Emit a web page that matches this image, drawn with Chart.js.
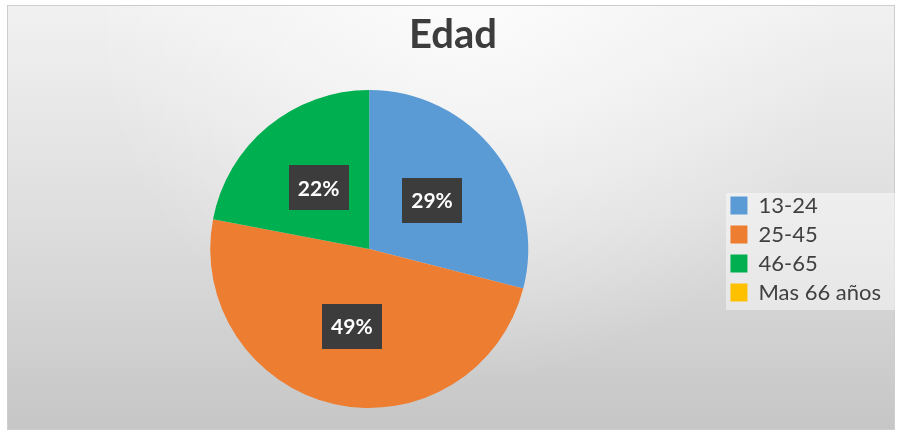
<!DOCTYPE html>
<html>
<head>
<meta charset="utf-8">
<script src="https://cdn.jsdelivr.net/npm/chart.js@4/dist/chart.umd.min.js"></script>
<style>
  html, body { margin: 0; padding: 0; background: #fff; }
  #wrap { width: 904px; height: 433px; }
</style>
</head>
<body>
<div id="wrap"><canvas id="edadChart" width="904" height="433"></canvas></div>
<script>
// datos del grafico
const ageGroups = ['13-24', '25-45', '46-65', 'Mas 66 años'];
const percents = [29, 49, 22, 0];
const sliceColors = ['#5B9BD5', '#ED7D31', '#00B050', '#FFC000'];

// fondo gris degradado + marco + caja de la leyenda
const backdrop = {
  id: 'backdrop',
  beforeDraw(chart) {
    const ctx = chart.ctx;
    ctx.save();
    ctx.fillStyle = '#ffffff';
    ctx.fillRect(0, 0, chart.width, chart.height);
    let g = ctx.createLinearGradient(0, 5, 0, 430);
    g.addColorStop(0, '#f1f1f1');
    g.addColorStop(0.5, '#dedede');
    g.addColorStop(1, '#c6c6c6');
    ctx.fillStyle = g;
    ctx.fillRect(7, 5, 888, 425);
    let r = ctx.createRadialGradient(470, 0, 10, 470, 0, 380);
    r.addColorStop(0, 'rgba(255,255,255,0.75)');
    r.addColorStop(1, 'rgba(255,255,255,0)');
    ctx.fillStyle = r;
    ctx.fillRect(7, 5, 888, 425);
    ctx.strokeStyle = '#cdcdcd';
    ctx.lineWidth = 1;
    ctx.strokeRect(7.5, 5.5, 887, 424);
    // caja clara detras de la leyenda
    ctx.fillStyle = 'rgba(255,255,255,0.45)';
    ctx.fillRect(726, 193, 169, 117);
    ctx.restore();
  }
};

// etiquetas de porcentaje en cajas oscuras
const pctLabels = {
  id: 'pctLabels',
  afterDatasetsDraw(chart) {
    const ctx = chart.ctx;
    const meta = chart.getDatasetMeta(0);
    const vals = chart.data.datasets[0].data;
    const total = vals.reduce((a, b) => a + b, 0);
    ctx.save();
    meta.data.forEach((arc, i) => {
      if (!vals[i]) return;
      const p = arc.tooltipPosition();
      const w = 60, h = 45;
      ctx.fillStyle = '#3c3c3c';
      ctx.fillRect(Math.round(p.x - w / 2), Math.round(p.y - h / 2), w, h);
      ctx.fillStyle = '#ffffff';
      ctx.font = 'bold 21px Lato';
      ctx.textAlign = 'center';
      ctx.textBaseline = 'middle';
      ctx.fillText(Math.round(vals[i] / total * 100) + '%', p.x, p.y + 1);
    });
    ctx.restore();
  }
};

new Chart(document.getElementById('edadChart').getContext('2d'), {
  type: 'pie',
  data: {
    labels: ageGroups,
    datasets: [{
      data: percents,
      backgroundColor: sliceColors,
      borderWidth: 0
    }]
  },
  options: {
    responsive: false,
    animation: false,
    layout: { padding: { top: 0, bottom: 25, left: 15, right: 13 } },
    plugins: {
      title: {
        display: true,
        text: 'Edad',
        color: '#3c3c3c',
        font: { family: 'Lato', size: 40, weight: 'bold', lineHeight: 1.2 },
        padding: { top: 11, bottom: 31 }
      },
      legend: {
        display: true,
        position: 'right',
        fullSize: false,
        labels: {
          color: '#404040',
          font: { family: 'Lato', size: 22 },
          boxWidth: 17,
          boxHeight: 18,
          padding: 7
        }
      },
      tooltip: { enabled: false }
    }
  },
  plugins: [backdrop, pctLabels]
});
</script>
</body>
</html>
